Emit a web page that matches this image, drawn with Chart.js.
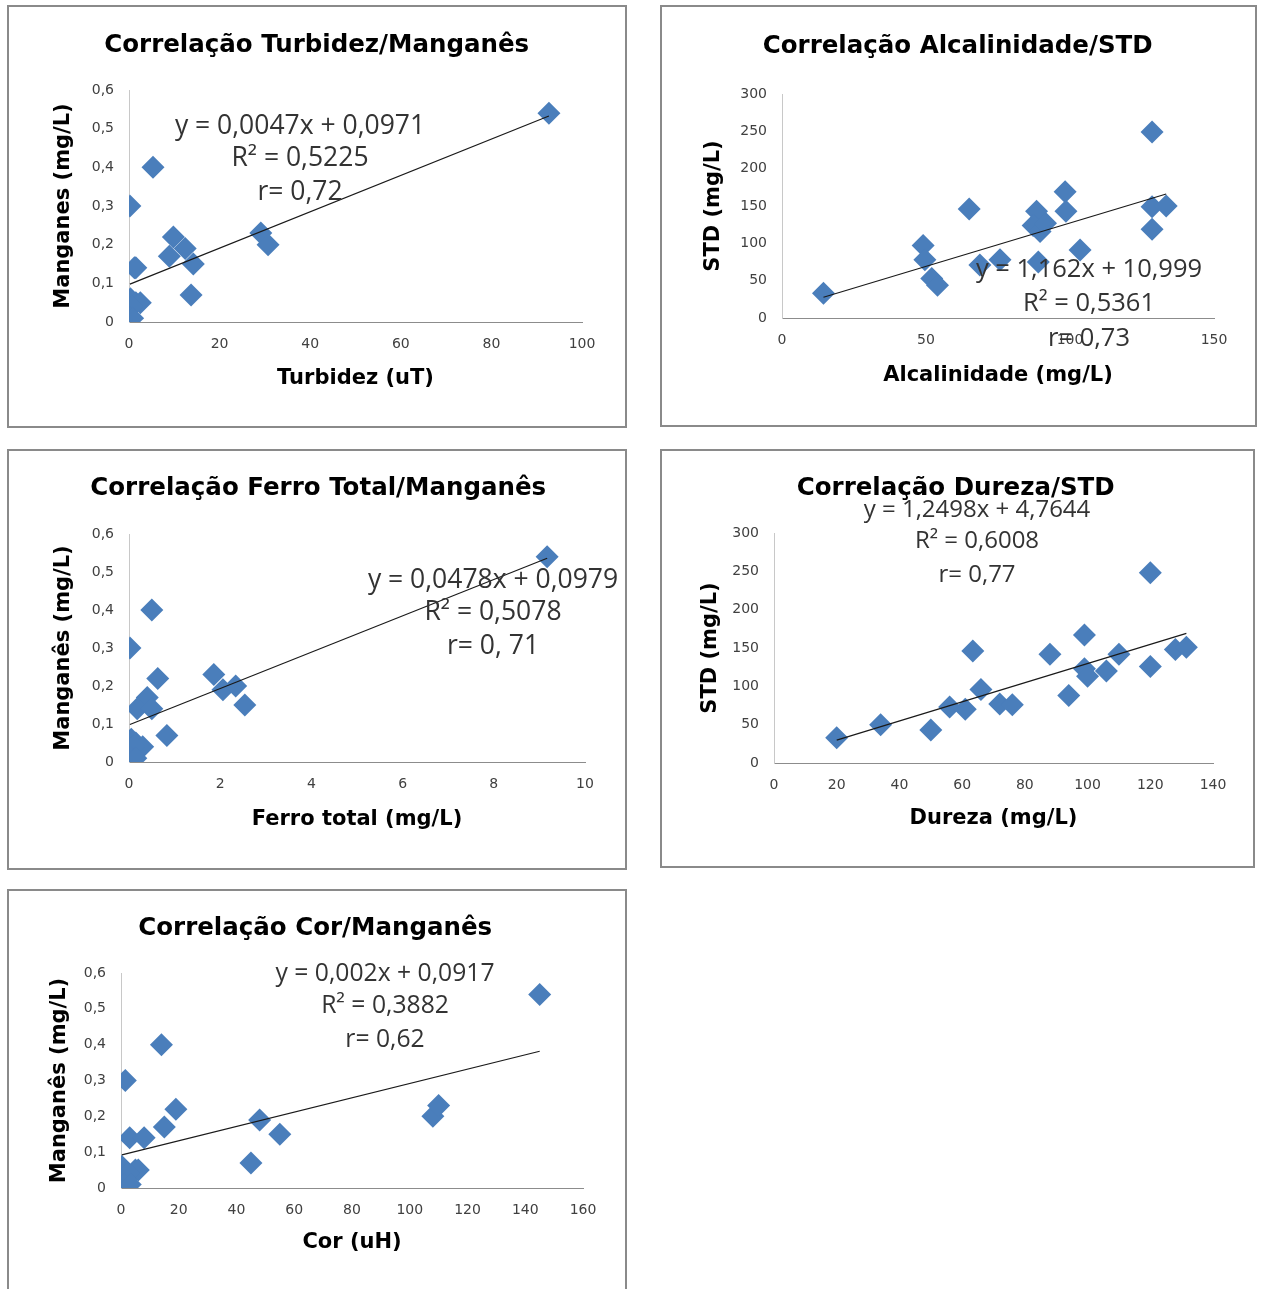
<!DOCTYPE html>
<html><head><meta charset="utf-8">
<script src="https://cdn.jsdelivr.net/npm/chart.js@4.4.1/dist/chart.umd.min.js"></script>
<style>
html,body{margin:0;padding:0;background:#fff;width:1262px;height:1289px;overflow:hidden;}
.panel{position:absolute;box-sizing:border-box;border:2px solid #8a8a8a;background:#fff;}
.panel canvas{position:absolute;left:0;top:0;}
</style></head><body>
<script>
// ---------- data ----------
const turbidez = [92.7, 5.3, 0.2, 9.8, 12.4, 8.9, 14.2, 29.1, 30.7, 13.7, 1.5, 1.2, 0.3, 1.5, 2.5, 0.5, 0.2, 0.8];
const mnTurb   = [0.54, 0.40, 0.30, 0.22, 0.19, 0.17, 0.15, 0.23, 0.20, 0.07, 0.14, 0.14, 0.06, 0.05, 0.05, 0.04, 0.01, 0.01];
const turbFit = [0.0047, 0.0971];
const turbLabels = ['y = 0,0047x + 0,0971', 'R² = 0,5225', 'r= 0,72'];

const alcalinidade = [14.4, 49, 49.6, 52, 54, 65, 68.7, 75.7, 88.4, 87.2, 89.6, 91.5, 89, 98.3, 98.6, 103.5, 128.5, 128.5, 128.5, 133.4];
const stdAlc       = [33, 97, 78, 53, 44, 146, 71, 78, 143, 124, 116, 127, 75, 169, 143, 91, 249, 149, 119, 150];
const alcFit = [1.162, 10.999];
const alcLabels = ['y = 1,162x + 10,999', 'R² = 0,5361', 'r= 0,73'];

const ferro  = [9.17, 0.5, 0.02, 0.63, 1.86, 2.06, 2.34, 2.54, 0.4, 0.18, 0.5, 0.83, 0.05, 0.15, 0.3, 0.1, 0.05, 0.15];
const mnFerro = [0.54, 0.40, 0.30, 0.22, 0.23, 0.19, 0.20, 0.15, 0.17, 0.14, 0.14, 0.07, 0.06, 0.05, 0.04, 0.04, 0.01, 0.01];
const ferroFit = [0.0478, 0.0979];
const ferroLabels = ['y = 0,0478x + 0,0979', 'R² = 0,5078', 'r= 0, 71'];

const dureza = [20, 34, 50, 56, 61, 63.4, 66, 72, 76, 88, 94, 99, 99, 100, 106, 110, 120, 120, 128, 131.5];
const stdDur = [33, 50, 43, 73, 70, 146, 96, 77, 76, 142, 88, 167, 123, 113, 120, 142, 248, 126, 148, 151];
const durFit = [1.2498, 4.7644];
const durLabels = ['y = 1,2498x + 4,7644', 'R² = 0,6008', 'r= 0,77'];

const cor   = [145, 14, 1.5, 19, 15, 3, 8, 48, 55, 45, 108, 110, 0.3, 5, 6, 2.6, 1.3, 3.2];
const mnCor = [0.54, 0.40, 0.30, 0.22, 0.17, 0.14, 0.14, 0.19, 0.15, 0.07, 0.20, 0.23, 0.06, 0.05, 0.05, 0.04, 0.01, 0.01];
const corFit = [0.002, 0.0917];
const corLabels = ['y = 0,002x + 0,0917', 'R² = 0,3882', 'r= 0,62'];

const mnTicks = [0, 0.1, 0.2, 0.3, 0.4, 0.5, 0.6];
const stdTicks = [0, 50, 100, 150, 200, 250, 300];
const turbTicks = [0, 20, 40, 60, 80, 100];
const alcTicks = [0, 50, 100, 150];
const ferroTicks = [0, 2, 4, 6, 8, 10];
const durTicks = [0, 20, 40, 60, 80, 100, 120, 140];
const corTicks = [0, 20, 40, 60, 80, 100, 120, 140, 160];

// ---------- layout (page pixels) ----------
const layouts = {
  c1: {panel:[7,5,620,423],   area:[129,90,582,322],   titleY:46,  yTitleX:64,  xTitleY:379,  eqX:300,  eqY:[126,158,192], eqSize:26.5},
  c2: {panel:[660,5,597,422], area:[782,94,1214,318],  titleY:47,  yTitleX:714, xTitleY:376,  eqX:1089, eqY:[270,304,339], eqSize:25.5},
  c3: {panel:[7,449,620,421], area:[129,534,585,762],  titleY:489, yTitleX:64,  xTitleY:820,  eqX:493,  eqY:[580,612,646], eqSize:26.5},
  c4: {panel:[660,449,595,419],area:[774,533,1213,763],titleY:489, yTitleX:711, xTitleY:819,  eqX:977,  eqY:[510,541,575], eqSize:24},
  c5: {panel:[7,889,620,402], area:[121,973,583,1188], titleY:929, yTitleX:60,  xTitleY:1243, eqX:385,  eqY:[974,1006,1040], eqSize:24.7}
};

function fmt(v){ return v === 0 ? '0' : String(v).replace('.', ','); }

const trendLabelPlugin = {
  id: 'trendLabel',
  afterDraw(chart, args, opts) {
    const ctx = chart.ctx;
    ctx.save();
    ctx.font = opts.font;
    ctx.fillStyle = opts.color;
    ctx.textAlign = 'center';
    ctx.textBaseline = 'middle';
    opts.lines.forEach((t, i) => ctx.fillText(t, opts.x, opts.ys[i]));
    ctx.restore();
  }
};

const TS = 24.5, AS = 21, TICK = 14;
const tickFont = {family: 'DejaVu Sans', size: TICK};
const axisFont = {family: 'DejaVu Sans', size: AS, weight: 'bold'};

function makeChart(L, spec) {
  const [px, py, pw, ph] = L.panel;
  const div = document.createElement('div');
  div.className = 'panel';
  div.style.cssText = `left:${px}px;top:${py}px;width:${pw}px;height:${ph}px`;
  document.body.appendChild(div);
  const cv = document.createElement('canvas');
  const W = pw - 4, H = ph - 4;
  cv.width = W; cv.height = H;
  div.appendChild(cv);
  const ox = px + 2, oy = py + 2;
  const TLH = TS * 1.2, ALH = AS * 1.2;
  const padLeft = L.yTitleX - ox - ALH / 2;
  const yW = L.area[0] - ox - padLeft;
  const padRight = W - (L.area[2] - ox);
  const xBottom = L.xTitleY - oy + ALH / 2;
  const padBottom = H - xBottom;
  const xH = xBottom - (L.area[3] - oy);
  const tTop = L.titleY - oy - TLH / 2;
  const tBottom = (L.area[1] - oy) - tTop - TLH;

  const xs = spec.x, ys = spec.y;
  const xmin = Math.min(...xs), xmax = Math.max(...xs);
  const pts = xs.map((x, i) => ({x, y: ys[i]}));
  const trend = [xmin, xmax].map(x => ({x, y: spec.fit[0] * x + spec.fit[1]}));

  new Chart(cv, {
    type: 'scatter',
    data: {datasets: [
      {type: 'line', data: trend, borderColor: '#1a1a1a', borderWidth: 1.2, pointRadius: 0, fill: false, order: 0},
      {data: pts, pointStyle: 'rectRot', radius: 11.5, backgroundColor: '#4a7ebb', borderColor: '#4a7ebb', borderWidth: 0, order: 1}
    ]},
    options: {
      responsive: false, animation: false, events: [],
      layout: {padding: {left: padLeft, right: padRight, top: 0, bottom: padBottom}},
      plugins: {
        legend: {display: false}, tooltip: {enabled: false},
        title: {display: true, text: spec.title, color: '#000',
                font: {family: 'DejaVu Sans', size: TS, weight: 'bold'},
                padding: {top: tTop, bottom: tBottom}},
        trendLabel: {lines: spec.labels, x: L.eqX - ox, ys: L.eqY.map(v => v - oy),
                     font: L.eqSize + 'px "Open Sans"', color: '#333'}
      },
      scales: {
        x: {type: 'linear', min: spec.xt[0], max: spec.xt[spec.xt.length - 1],
            afterBuildTicks: s => { s.ticks = spec.xt.map(v => ({value: v})); },
            afterFit: s => { s.height = xH; },
            grid: {display: false, drawTicks: false},
            border: {display: true, color: '#8c8c8c', width: 1},
            ticks: {padding: 14, font: tickFont, color: '#404040', maxRotation: 0, autoSkip: false, callback: v => fmt(v)},
            title: {display: true, text: spec.xTitle, color: '#000', font: axisFont, padding: 0}},
        y: {type: 'linear', min: spec.yt[0], max: spec.yt[spec.yt.length - 1],
            afterBuildTicks: s => { s.ticks = spec.yt.map(v => ({value: v})); },
            afterFit: s => { s.width = yW; },
            grid: {display: false, drawTicks: false},
            border: {display: true, color: '#c8c8c8', width: 1},
            ticks: {padding: 15, font: tickFont, color: '#404040', autoSkip: false, callback: v => fmt(v)},
            title: {display: true, text: spec.yTitle, color: '#000', font: axisFont, padding: 0}}
      }
    },
    plugins: [trendLabelPlugin]
  });
}

makeChart(layouts.c1, {title: 'Correlação Turbidez/Manganês', xTitle: 'Turbidez (uT)', yTitle: 'Manganes (mg/L)',
  x: turbidez, y: mnTurb, fit: turbFit, labels: turbLabels, xt: turbTicks, yt: mnTicks});
makeChart(layouts.c2, {title: 'Correlação Alcalinidade/STD', xTitle: 'Alcalinidade (mg/L)', yTitle: 'STD (mg/L)',
  x: alcalinidade, y: stdAlc, fit: alcFit, labels: alcLabels, xt: alcTicks, yt: stdTicks});
makeChart(layouts.c3, {title: 'Correlação Ferro Total/Manganês', xTitle: 'Ferro total (mg/L)', yTitle: 'Manganês (mg/L)',
  x: ferro, y: mnFerro, fit: ferroFit, labels: ferroLabels, xt: ferroTicks, yt: mnTicks});
makeChart(layouts.c4, {title: 'Correlação Dureza/STD', xTitle: 'Dureza (mg/L)', yTitle: 'STD (mg/L)',
  x: dureza, y: stdDur, fit: durFit, labels: durLabels, xt: durTicks, yt: stdTicks});
makeChart(layouts.c5, {title: 'Correlação Cor/Manganês', xTitle: 'Cor (uH)', yTitle: 'Manganês (mg/L)',
  x: cor, y: mnCor, fit: corFit, labels: corLabels, xt: corTicks, yt: mnTicks});
</script>
</body></html>
